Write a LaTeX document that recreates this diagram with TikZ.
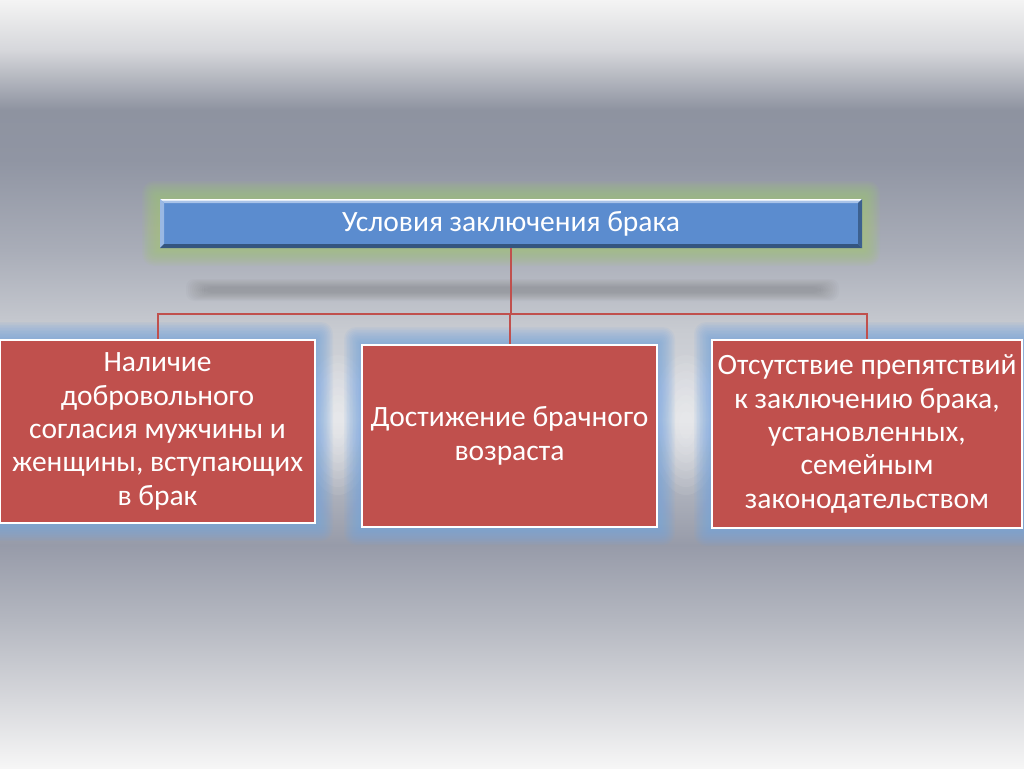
\documentclass[tikz,border=0pt]{standalone}
\usepackage{fontspec}
\setmainfont{Carlito}
\definecolor{boxred}{HTML}{C0504D}
\definecolor{boxblue}{HTML}{5B8CCF}
\definecolor{bevdark}{HTML}{34557F}
\definecolor{bevlight}{HTML}{A9C3E8}
\definecolor{greenglow}{HTML}{A3C67A}
\definecolor{blueglow}{HTML}{74A4E0}
\definecolor{bgA}{HTML}{F4F4F4}
\definecolor{bgB}{HTML}{D6D7DB}
\definecolor{bgC}{HTML}{8E93A0}
\definecolor{bgD}{HTML}{9095A3}
\definecolor{bgE}{HTML}{A9ADB8}
\definecolor{bgF}{HTML}{C8CBD1}
\definecolor{bgG}{HTML}{D9DBE1}
\definecolor{bgH}{HTML}{B2B6C0}
\definecolor{bgI}{HTML}{979BA9}
\definecolor{bgJ}{HTML}{B4B7C0}
\definecolor{bgK}{HTML}{D7D8DC}
\definecolor{bgL}{HTML}{F6F6F6}
\newcommand{\myglow}[5]{%
  \foreach \i in {1,...,12} {%
    \fill[#5, opacity=0.09, rounded corners=\i pt] (#1-\i*1.5, #2-\i*1.5) rectangle (#3+\i*1.5, #4+\i*1.5);
  }%
}
\tikzset{
  redbox/.style={draw=white, line width=2.5pt, fill=boxred, text=white, align=center,
    font=\fontsize{29.5}{33.4}\selectfont, inner sep=0pt, anchor=center},
  link/.style={draw=boxred, line width=2pt}
}
\begin{document}
\begin{tikzpicture}[x=1pt,y=-1pt]
\useasboundingbox (0,0) rectangle (1024,768);
% background bands
\shade[top color=bgA, bottom color=bgB] (0,0) rectangle (1024,50);
\shade[top color=bgB, bottom color=bgC] (0,50) rectangle (1024,110);
\shade[top color=bgC, bottom color=bgD] (0,110) rectangle (1024,160);
\shade[top color=bgD, bottom color=bgE] (0,160) rectangle (1024,250);
\shade[top color=bgE, bottom color=bgF] (0,250) rectangle (1024,330);
\shade[top color=bgF, bottom color=bgG] (0,330) rectangle (1024,420);
\shade[top color=bgG, bottom color=bgH] (0,420) rectangle (1024,480);
\shade[top color=bgH, bottom color=bgI] (0,480) rectangle (1024,545);
\shade[top color=bgI, bottom color=bgJ] (0,545) rectangle (1024,620);
\shade[top color=bgJ, bottom color=bgK] (0,620) rectangle (1024,700);
\shade[top color=bgK, bottom color=bgL] (0,700) rectangle (1024,768);
% light spots between boxes
\foreach \cx in {338,686} {
  \foreach \r in {70,62,54,46,38,30,22,14} {
    \fill[white, opacity=0.07] (\cx,425) ellipse ({\r*0.5} and \r);
  }
}
% blurred grey bar
\foreach \i in {0,...,9} {
  \fill[gray!75!black, opacity=0.035, rounded corners=8pt] (186+\i*2, 279+\i*0.9) rectangle (839-\i*2, 301-\i*0.9);
}
% glows
\myglow{160}{199}{862}{248}{greenglow}
\myglow{0}{340}{315}{523}{blueglow}
\myglow{362}{345}{657}{527}{blueglow}
\myglow{712}{340}{1022}{528}{blueglow}
% top box with bevel
\node[inner sep=0pt, minimum width=702pt, minimum height=49pt, fill=boxblue, text=white,
  font=\fontsize{29.5}{33}\selectfont] (top) at (511,223.5) {Условия заключения брака};
\fill[bevlight] (160,199) -- (862,199) -- (858,203) -- (164,203) -- cycle;
\fill[white] (160,199) -- (862,199) -- (861,200.5) -- (161,200.5) -- cycle;
\fill[bevlight!80!boxblue] (160,199) -- (164,203) -- (164,244) -- (160,248) -- cycle;
\fill[bevdark] (160,248) -- (164,244) -- (858,244) -- (862,248) -- cycle;
\fill[bevdark!80!boxblue] (862,199) -- (858,203) -- (858,244) -- (862,248) -- cycle;
% red boxes
\node[redbox, minimum width=315pt, minimum height=183pt] (a) at (157.5,431.5)
  {Наличие\\добровольного\\согласия мужчины и\\женщины, вступающих\\в брак};
\node[redbox, minimum width=295pt, minimum height=182pt] (b) at (509.5,436)
  {Достижение брачного\\возраста};
\node[redbox, minimum width=310pt, minimum height=188pt] (c) at (867,434)
  {Отсутствие препятствий\\к заключению брака,\\установленных,\\семейным\\законодательством};
% connectors
\coordinate (bus) at (511,314);
\draw[link] (top.south) -- (bus);
\draw[link] (a.north) |- (bus) -| (c.north);
\draw[link] (b.north) -- (b.north |- bus);
\end{tikzpicture}
\end{document}
